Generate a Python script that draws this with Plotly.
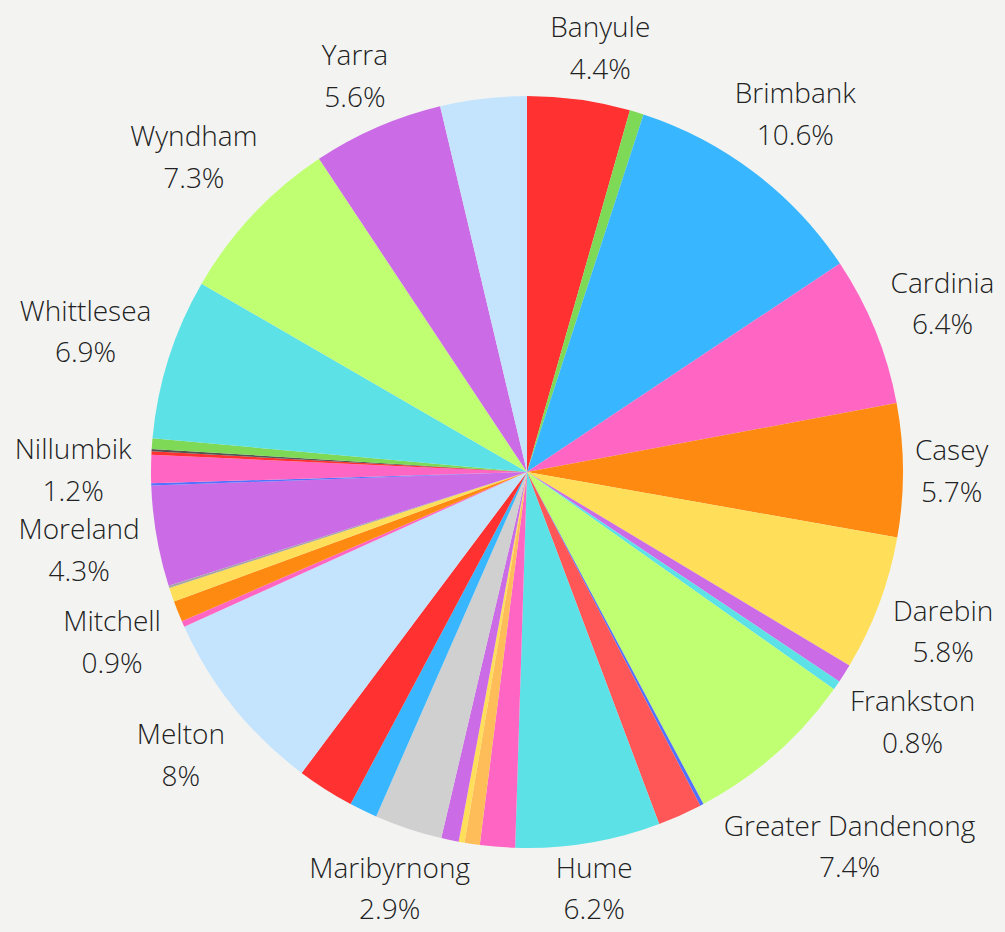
import plotly.graph_objects as go

# ---------------- data ----------------
labels = ["Banyule", "Bayside", "Brimbank", "Cardinia", "Casey", "Darebin",
          "Frankston", "Glen Eira", "Greater Dandenong", "Greater Geelong",
          "Hobsons Bay", "Hume", "Kingston", "Knox", "Macedon Ranges",
          "Manningham", "Maribyrnong", "Maroondah", "Melbourne", "Melton",
          "Mildura", "Mitchell", "Monash", "Moonee Valley", "Moreland",
          "Mornington Peninsula", "Nillumbik", "Port Phillip", "Stonnington",
          "Whitehorse", "Whittlesea", "Wyndham", "Yarra", "Yarra Ranges"]

values = [4.4, 0.6, 10.6, 6.4, 5.7, 5.8,
          0.8, 0.4, 7.4, 0.15,
          1.9, 6.2, 1.5, 0.65, 0.25,
          0.75, 2.9, 1.2, 2.45, 8.0,
          0.25, 0.9, 0.6, 0.1, 4.3,
          0.1, 1.2, 0.15, 0.1,
          0.45, 6.9, 7.3, 5.6, 3.7]

# which slices carry a visible label
labelled = ["Banyule", "Brimbank", "Cardinia", "Casey", "Darebin", "Frankston",
            "Greater Dandenong", "Hume", "Maribyrnong", "Melton", "Mitchell",
            "Moreland", "Nillumbik", "Whittlesea", "Wyndham", "Yarra"]

# ---------------- style ----------------
colors = ["#FF3131", "#7ED957", "#38B6FF", "#FF66C4", "#FF8A12", "#FFDE59",
          "#CB6CE6", "#5CE1E6", "#C1FF72", "#5271FF",
          "#FF5757", "#5CE1E6", "#FF66C4", "#FFBD59", "#FFDE59",
          "#CB6CE6", "#D0D0D0", "#38B6FF", "#FF3131", "#C4E4FD",
          "#FF66C4", "#FF8A12", "#FFDE59", "#A6A6A6", "#CB6CE6",
          "#5271FF", "#FF66C4", "#FF3131", "#545454",
          "#7ED957", "#5CE1E6", "#C1FF72", "#CB6CE6", "#C4E4FD"]

BG = "#F3F4F2"
TEXT_COLOR = "#222222"
FIG_W, FIG_H = 1005, 932
CX, CY, R = 527, 472, 376          # pie centre / radius in pixels

# per-label placement nudges: (rotation of the label ring in degrees, ring radius px)
label_nudge = {
    "Banyule": (-7.44, 385), "Brimbank": (-7.47, 379), "Cardinia": (-3.13, 380),
    "Casey": (0.0, 368), "Darebin": (3.25, 378), "Frankston": (5.29, 383),
    "Greater Dandenong": (13.99, 385), "Hume": (8.03, 376),
    "Maribyrnong": (-12.85, 378), "Melton": (-4.32, 386), "Mitchell": (-3.27, 382),
    "Moreland": (-1.75, 375), "Nillumbik": (0.0, 375), "Whittlesea": (3.38, 381),
    "Wyndham": (6.33, 385), "Yarra": (5.22, 380),
}

span = ("<span style='font-size:28px;color:" + TEXT_COLOR +
        ";fill-opacity:1'>{}</span>")


def dom(radius):
    return dict(x=[(CX - radius) / FIG_W, (CX + radius) / FIG_W],
                y=[(FIG_H - CY - radius) / FIG_H, (FIG_H - CY + radius) / FIG_H])


traces = []
for name in labelled:
    k = labels.index(name)
    txt = [""] * len(labels)
    txt[k] = span.format(labels[k]) + "<br>" + span.format(f"{values[k]:g}%")
    rot, rad = label_nudge[name]
    traces.append(go.Pie(
        labels=labels,
        values=values,
        text=txt,
        textinfo="text",
        textposition="outside",
        sort=False,
        direction="clockwise",
        rotation=rot,
        domain=dom(rad),
        marker=dict(colors=["rgba(0,0,0,0)"] * len(values), line=dict(width=0)),
        outsidetextfont=dict(family="Open Sans", size=32,
                             color="rgba(0,0,0,0)", weight=300),
        automargin=False,
        showlegend=False,
        hoverinfo="skip",
    ))

traces.append(go.Pie(
    labels=labels,
    values=values,
    textinfo="none",
    sort=False,
    direction="clockwise",
    rotation=0,
    domain=dom(R),
    marker=dict(colors=colors, line=dict(width=0)),
    automargin=False,
    showlegend=False,
    hoverinfo="label+value",
))

fig = go.Figure(traces)

fig.update_layout(
    width=FIG_W,
    height=FIG_H,
    autosize=False,
    margin=dict(l=0, r=0, t=0, b=0, pad=0, autoexpand=False),
    paper_bgcolor=BG,
    plot_bgcolor=BG,
    showlegend=False,
)

fig.write_html(
    "out.html",
    config={"displayModeBar": False},
    post_script="document.body.style.margin='0';document.body.style.overflow='hidden';",
)
